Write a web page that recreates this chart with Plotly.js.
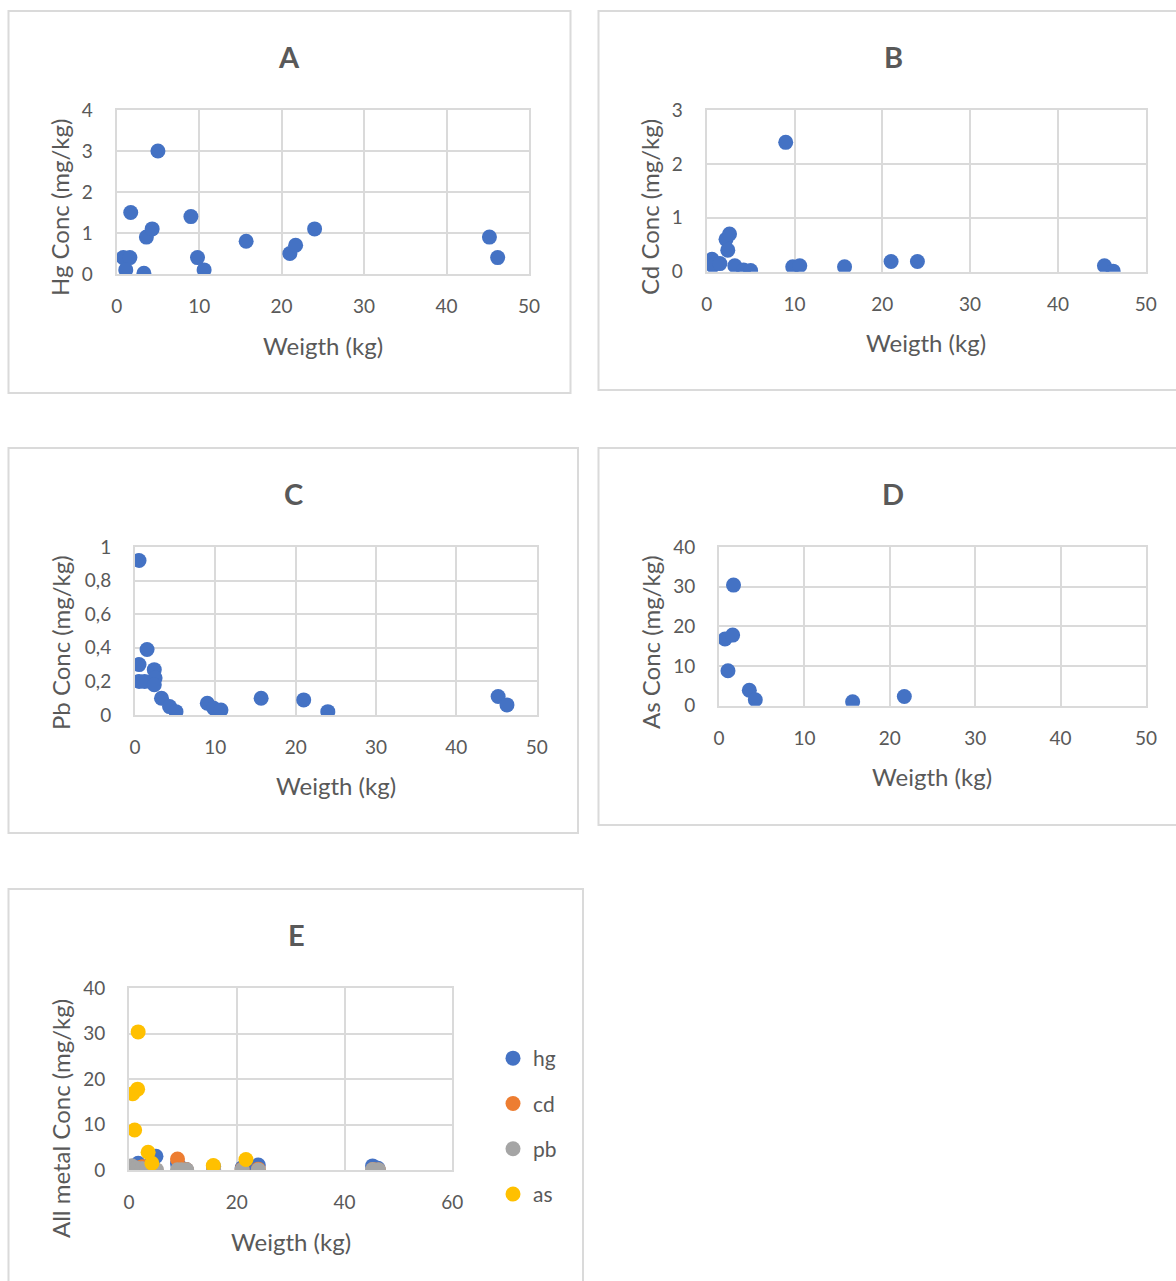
<!DOCTYPE html>
<html>
<head>
<meta charset="utf-8">
<script src="https://cdn.plot.ly/plotly-3.0.1.min.js"></script>
<style>html,body{margin:0;padding:0;background:#fff;}#chart{width:1176px;height:1281px;}</style>
</head>
<body>
<div id="chart"></div>
<script>
// ---- Data ----
const hgWeight = [0.8, 1.6, 1.1, 1.7, 3.3, 3.6, 4.3, 5.0, 9.0, 9.8, 10.6, 15.7, 21.0, 21.7, 24.0, 45.2, 46.2];
const hgConc   = [0.4, 0.4, 0.1, 1.5, 0.02, 0.9, 1.1, 3.0, 1.4, 0.4, 0.1, 0.8, 0.5, 0.7, 1.1, 0.9, 0.4];

const cdWeight = [0.6, 0.7, 1.5, 2.2, 2.4, 2.6, 3.2, 4.2, 5.0, 9.0, 9.8, 10.6, 15.7, 21.0, 24.0, 45.3, 46.3];
const cdConc   = [0.23, 0.11, 0.15, 0.6, 0.4, 0.7, 0.11, 0.03, 0.02, 2.4, 0.09, 0.11, 0.09, 0.19, 0.19, 0.11, 0.01];

const pbWeight = [0.5, 0.5, 0.5, 1.2, 1.5, 2.4, 2.5, 2.4, 3.3, 4.3, 5.1, 9.0, 9.8, 10.7, 15.7, 21.0, 24.0, 45.2, 46.3];
const pbConc   = [0.92, 0.30, 0.20, 0.20, 0.39, 0.27, 0.22, 0.18, 0.10, 0.05, 0.02, 0.07, 0.04, 0.03, 0.10, 0.09, 0.02, 0.11, 0.06];

const asWeight = [0.7, 1.05, 1.6, 1.7, 3.55, 4.25, 15.65, 21.7];
const asConc   = [16.8, 8.8, 17.8, 30.4, 3.9, 1.5, 1.0, 2.3];

const seriesNames = ["hg", "cd", "pb", "as"];
const panelLetters = ["A", "B", "C", "D", "E"];
const yTitles = ["Hg Conc (mg/kg)", "Cd Conc (mg/kg)", "Pb Conc (mg/kg)", "As Conc (mg/kg)", "All metal Conc (mg/kg)"];
const xTitle = "Weigth (kg)";
const pbTickVals = [0, 0.2, 0.4, 0.6, 0.8, 1];
const pbTickText = ["0", "0,2", "0,4", "0,6", "0,8", "1"];

// ---- Styling / layout ----
const W = 1176, H = 1281;
const px = x => x / W;
const py = y => 1 - y / H;
const FONT = "Lato, 'Open Sans', sans-serif";
const TXT = "#595959";
const GRID = "#dadada";
const BLUE = "#4472C4";
const colors = {hg: "#4472C4", cd: "#ED7D31", pb: "#A5A5A5", as: "#FFC000"};
const MS = 15;

function axX(l, r, range, dtick) {
  return {domain: [px(l), px(r)], range: range, dtick: dtick, tick0: 0, showgrid: true, gridcolor: GRID, gridwidth: 2,
    showline: true, mirror: true, linecolor: GRID, linewidth: 2, zeroline: false, ticks: "",
    ticklabelstandoff: 14, tickfont: {family: FONT, size: 19, color: TXT}, fixedrange: true};
}
function axY(b, t, range, dtick) {
  return {domain: [py(b), py(t)], range: range, dtick: dtick, tick0: 0, showgrid: true, gridcolor: GRID, gridwidth: 2,
    showline: true, mirror: true, linecolor: GRID, linewidth: 2, zeroline: false, ticks: "",
    ticklabelstandoff: 18, tickfont: {family: FONT, size: 19, color: TXT}, fixedrange: true};
}

function tr(x, y, name, xa, ya, color, showlegend) {
  return {type: "scatter", mode: "markers", x: x, y: y, name: name, xaxis: xa, yaxis: ya,
    marker: {color: color, size: MS}, showlegend: !!showlegend, legendgroup: name + (showlegend ? "" : xa), hoverinfo: "x+y"};
}

const data = [
  tr(hgWeight, hgConc, "hg", "x", "y", BLUE),
  tr(cdWeight, cdConc, "cd", "x2", "y2", BLUE),
  tr(pbWeight, pbConc, "pb", "x3", "y3", BLUE),
  tr(asWeight, asConc, "as", "x4", "y4", BLUE),
  tr(hgWeight, hgConc, "hg", "x5", "y5", colors.hg, true),
  tr(cdWeight, cdConc, "cd", "x5", "y5", colors.cd, true),
  tr(pbWeight, pbConc, "pb", "x5", "y5", colors.pb, true),
  tr(asWeight, asConc, "as", "x5", "y5", colors.as, true)
];

const layout = {
  width: W, height: H, margin: {l: 0, r: 0, t: 0, b: 0},
  paper_bgcolor: "#fff", plot_bgcolor: "#fff",
  font: {family: FONT, color: TXT},
  xaxis: Object.assign(axX(116.7, 529, [0, 50], 10), {anchor: "y"}),
  yaxis: Object.assign(axY(274, 110, [0, 4], 1), {anchor: "x"}),
  xaxis2: Object.assign(axX(706.7, 1145.7, [0, 50], 10), {anchor: "y2"}),
  yaxis2: Object.assign(axY(271.7, 110, [0, 3], 1), {anchor: "x2"}),
  xaxis3: Object.assign(axX(135, 536.7, [0, 50], 10), {anchor: "y3"}),
  yaxis3: Object.assign(axY(715, 547, [0, 1], 0.2), {anchor: "x3", tickmode: "array", tickvals: pbTickVals, ticktext: pbTickText}),
  xaxis4: Object.assign(axX(719, 1146, [0, 50], 10), {anchor: "y4"}),
  yaxis4: Object.assign(axY(705.7, 547, [0, 40], 10), {anchor: "x4"}),
  xaxis5: Object.assign(axX(129, 452.3, [0, 60], 20), {anchor: "y5"}),
  yaxis5: Object.assign(axY(1170, 988.3, [0, 40], 10), {anchor: "x5"}),
  showlegend: true,
  legend: {x: px(493), y: py(1038), xanchor: "left", yanchor: "top", font: {family: FONT, size: 21, color: TXT},
    tracegroupgap: 15, itemwidth: 30, bgcolor: "rgba(0,0,0,0)"},
  shapes: [
    [8.5, 11, 570.5, 393], [598.5, 11, 1180, 390], [8.5, 448, 578, 833], [598.5, 448, 1180, 825], [8.5, 889, 583, 1290]
  ].map(b => ({type: "rect", xref: "paper", yref: "paper", x0: px(b[0]), x1: px(b[2]), y0: py(b[3]), y1: py(b[1]),
    line: {color: GRID, width: 2}, fillcolor: "rgba(0,0,0,0)", layer: "below"})),
  annotations: []
};

// panel letters
const letterPos = [[289, 56], [893, 56], [293, 493], [893, 493], [296, 934]];
letterPos.forEach((p, i) => layout.annotations.push({text: "<b>" + panelLetters[i] + "</b>", xref: "paper", yref: "paper",
  x: px(p[0]), y: py(p[1]), xanchor: "center", yanchor: "middle", showarrow: false, font: {family: FONT, size: 29, color: TXT}}));
// x titles
const xTitlePos = [[323, 345], [926, 342], [336, 785], [932, 776], [291, 1241]];
xTitlePos.forEach(p => layout.annotations.push({text: xTitle, xref: "paper", yref: "paper", x: px(p[0]), y: py(p[1]),
  xanchor: "center", yanchor: "middle", showarrow: false, font: {family: FONT, size: 24, color: TXT}}));
// y titles
const yTitlePos = [[60, 208], [650, 207], [60, 643], [650, 642], [60, 1119]];
yTitlePos.forEach((p, i) => layout.annotations.push({text: yTitles[i], xref: "paper", yref: "paper", x: px(p[0]), y: py(p[1]),
  xanchor: "center", yanchor: "middle", textangle: -90, showarrow: false, font: {family: FONT, size: 24, color: TXT}}));

Plotly.newPlot("chart", data, layout, {staticPlot: true, displayModeBar: false});
</script>
</body>
</html>
